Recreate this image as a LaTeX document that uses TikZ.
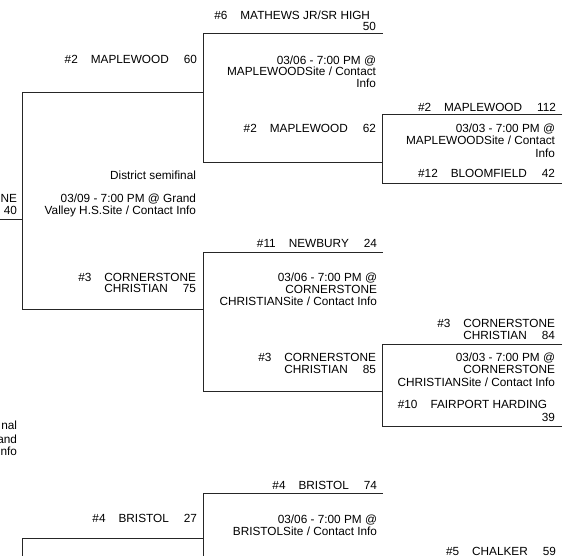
\documentclass[tikz,border=0pt]{standalone}
\usepackage{fontspec}
\setmainfont{Liberation Sans}
\newcommand{\gapA}{\hspace{13pt}}
\newcommand{\gapB}{\hspace{15pt}}
\tikzset{
  txt/.style={anchor=base east, inner sep=0pt, outer sep=0pt, font=\fontsize{11.8}{12.3}\selectfont, text=black},
  ln/.style={draw=black!85, line width=1pt},
}
\begin{document}
\begin{tikzpicture}[x=1pt, y=-1pt]
\useasboundingbox (0,0) rectangle (577,556);
\clip (0,0) rectangle (577,556);
% ---- corner coordinates ----
\coordinate (q1tl) at (203,34);  \coordinate (q1tr) at (382.5,34);
\coordinate (q1bl) at (203,162); \coordinate (q1br) at (382.5,162);
\coordinate (atl) at (382.5,115); \coordinate (atr) at (562,115);
\coordinate (abl) at (382.5,183); \coordinate (abr) at (562,183);
\coordinate (s1tl) at (22,93);   \coordinate (s1tr) at (203,93);
\coordinate (s1bl) at (22,309);  \coordinate (s1br) at (203,309);
\coordinate (q2tl) at (203,252); \coordinate (q2tr) at (382.5,252);
\coordinate (q2bl) at (203,391); \coordinate (q2br) at (382.5,391);
\coordinate (btl) at (382.5,344); \coordinate (btr) at (562,344);
\coordinate (bbl) at (382.5,426); \coordinate (bbr) at (562,426);
\coordinate (ftl) at (0,219);    \coordinate (ftr) at (22,219);
\coordinate (q3tl) at (203,493); \coordinate (q3tr) at (382.5,493);
\coordinate (q3bot) at (203,556);
\coordinate (s2tl) at (22,538);  \coordinate (s2tr) at (203,538);
\coordinate (s2bot) at (22,556);
% ---- bracket lines ----
\draw[ln] (q1tr) -- (q1tl) -- (q1bl) -- (q1br);
\draw[ln] (atr) -- (atl) -- (abl) -- (abr);
\draw[ln] (s1tr) -- (s1tl) -- (s1bl) -- (s1br);
\draw[ln] (q2tr) -- (q2tl) -- (q2bl) -- (q2br);
\draw[ln] (btr) -- (btl) -- (bbl) -- (bbr);
\draw[ln] (ftl) -- (ftr);
\draw[ln] (q3tr) -- (q3tl) -- (q3bot);
\draw[ln] (s2tr) -- (s2tl) -- (s2bot);
% ---- quarterfinal 1 ----
\node[txt] (t1) at (370,19.2) {\#6\gapA MATHEWS JR/SR HIGH};
\node[txt] (t2) at (376,30.2) {50};
\node[txt] (t3) at (376,64.2) {03/06 - 7:00 PM @};
\node[txt] (t4) at (376,75.7) {MAPLEWOODSite / Contact};
\node[txt] (t5) at (376,87.2) {Info};
\node[txt] (t6) at (376,132.2) {\#2\gapA MAPLEWOOD\gapB 62};
% ---- first round a ----
\node[txt] (a1) at (556,111.2) {\#2\gapA MAPLEWOOD\gapB 112};
\node[txt] (a2) at (555,132.2) {03/03 - 7:00 PM @};
\node[txt] (a3) at (555,144.7) {MAPLEWOODSite / Contact};
\node[txt] (a4) at (555,157.2) {Info};
\node[txt] (a5) at (555,177.2) {\#12\gapA BLOOMFIELD\gapB 42};
% ---- semifinal 1 ----
\node[txt] (s1) at (197,63.2) {\#2\gapA MAPLEWOOD\gapB 60};
\node[txt] (s2) at (196,179.2) {District semifinal};
\node[txt] (s3) at (196,202.2) {03/09 - 7:00 PM @ Grand};
\node[txt] (s4) at (196,214.2) {Valley H.S.Site / Contact Info};
\node[txt] (s5) at (196,281.2) {\#3\gapA CORNERSTONE};
\node[txt] (s6) at (196,292.7) {CHRISTIAN\gapB 75};
% ---- final (cut off at the left edge) ----
\node[txt] (f1) at (17,202.2) {NE};
\node[txt] (f2) at (17,214.2) {40};
\node[txt] (f3) at (17,429.2) {nal};
\node[txt] (f4) at (17,443.2) {and};
\node[txt] (f5) at (17,455.7) {nfo};
% ---- quarterfinal 2 ----
\node[txt] (u1) at (377,247.2) {\#11\gapA NEWBURY\gapB 24};
\node[txt] (u2) at (377,281.2) {03/06 - 7:00 PM @};
\node[txt] (u3) at (377,293.2) {CORNERSTONE};
\node[txt] (u4) at (377,305.2) {CHRISTIANSite / Contact Info};
\node[txt] (u5) at (376,361.2) {\#3\gapA CORNERSTONE};
\node[txt] (u6) at (376,373.2) {CHRISTIAN\gapB 85};
% ---- first round b ----
\node[txt] (b1) at (555,327.2) {\#3\gapA CORNERSTONE};
\node[txt] (b2) at (555,339.2) {CHRISTIAN\gapB 84};
\node[txt] (b3) at (555,361.2) {03/03 - 7:00 PM @};
\node[txt] (b4) at (555,373.7) {CORNERSTONE};
\node[txt] (b5) at (555,386.2) {CHRISTIANSite / Contact Info};
\node[txt] (b6) at (547,408.7) {\#10\gapA FAIRPORT HARDING};
\node[txt] (b7) at (555,421.2) {39};
% ---- quarterfinal 3 / semifinal 2 ----
\node[txt] (v1) at (377,489.2) {\#4\gapA BRISTOL\gapB 74};
\node[txt] (v2) at (377,523.2) {03/06 - 7:00 PM @};
\node[txt] (v3) at (377,535.2) {BRISTOLSite / Contact Info};
\node[txt] (w1) at (197,522.2) {\#4\gapA BRISTOL\gapB 27};
\node[txt] (c1) at (556,555.4) {\#5\gapA CHALKER\gapB 59};
\end{tikzpicture}
\end{document}
